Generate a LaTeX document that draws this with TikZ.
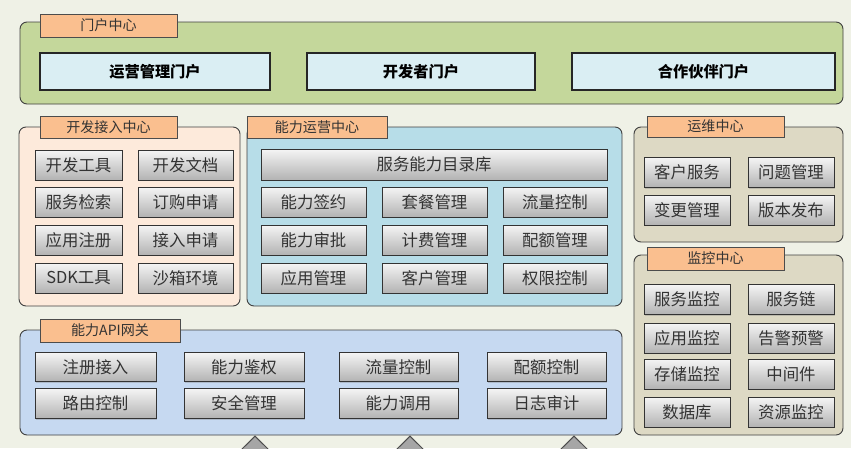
\documentclass[tikz,border=0pt]{standalone}
\usepackage{fontspec}
\setmainfont{Noto Sans CJK SC}
\usepackage{tikz}
\usetikzlibrary{arrows.meta, shadows}

\definecolor{pagebg}{RGB}{239,241,230}
\definecolor{portalgreen}{RGB}{196,215,155}
\definecolor{portalblue}{RGB}{218,238,243}
\definecolor{devpeach}{RGB}{253,234,219}
\definecolor{opsblue}{RGB}{183,221,232}
\definecolor{omgray}{RGB}{221,217,196}
\definecolor{gwblue}{RGB}{198,217,241}
\definecolor{taborange}{RGB}{250,191,143}

\newcommand{\pu}{0.03cm}

\begin{document}
\begin{tikzpicture}[x=0.03cm, y=-0.03cm,
  group/.style={draw=black!75, line width=0.8pt, rounded corners=6pt, inner sep=0pt},
  tab/.style={draw=black!70, fill=taborange, line width=0.6pt, inner sep=0pt,
              text=black!80, font=\fontsize{12}{14}\selectfont},
  portalbox/.style={draw=black!85, fill=portalblue, line width=1pt, inner sep=0pt,
              minimum height=37*\pu, font=\bfseries\fontsize{13}{15}\selectfont},
  btn/.style={draw=black!80, line width=0.8pt, inner sep=0pt,
              top color=white!96!black, bottom color=black!30,
              drop shadow={shadow xshift=1pt, shadow yshift=-1pt, opacity=0.35},
              minimum height=30*\pu, text=black!80, font=\fontsize{14}{16}\selectfont},
  uparrow/.style={draw=black!70, line width=0.8pt,
              -{Triangle[width=0.96cm, length=0.48cm, line width=0.8pt, fill=black!35]}}]
  \clip (0,0) rectangle (851,448);
  \fill[pagebg] (0,0) rectangle (851,448);

  % 门户中心
  \node[group, fill=portalgreen, minimum width=823*\pu, minimum height=82*\pu] (portal) at (431.5,63) {};
  \node[tab, minimum width=137*\pu, minimum height=23*\pu] (portaltab) at (108.5,25.5) {门户中心};
  \node[portalbox, minimum width=230*\pu] (opsportal) at (155,71.5)   {运营管理门户};
  \node[portalbox, minimum width=228*\pu] (devportal) at (421,71.5)   {开发者门户};
  \node[portalbox, minimum width=263*\pu] (ptnportal) at (703.5,71.5) {合作伙伴门户};

  % 开发接入中心
  \node[group, fill=devpeach, minimum width=221*\pu, minimum height=179*\pu] (dev) at (129.5,216.5) {};
  \node[tab, minimum width=137*\pu, minimum height=22*\pu] (devtab) at (108.5,127) {开发接入中心};
  \node[btn, minimum width=87*\pu] (devtool) at (78.5,165) {开发工具};
  \node[btn, minimum width=95*\pu] (devdoc)  at (185.5,165) {开发文档};
  \node[btn, minimum width=87*\pu] (search)  at (78.5,202) {服务检索};
  \node[btn, minimum width=95*\pu] (order)   at (185.5,202) {订购申请};
  \node[btn, minimum width=87*\pu] (appreg)  at (78.5,240) {应用注册};
  \node[btn, minimum width=95*\pu] (access)  at (185.5,240) {接入申请};
  \node[btn, minimum width=87*\pu] (sdk)     at (78.5,278) {SDK工具};
  \node[btn, minimum width=95*\pu] (sandbox) at (185.5,278) {沙箱环境};

  % 能力运营中心
  \node[group, fill=opsblue, minimum width=375*\pu, minimum height=179*\pu] (ops) at (434.5,216.5) {};
  \node[tab, minimum width=140*\pu, minimum height=22*\pu] (opstab) at (317,127) {能力运营中心};
  \node[btn, minimum width=346*\pu, minimum height=31*\pu] (catalog) at (434,164.5) {服务能力目录库};
  \node[btn, minimum width=105*\pu] (sign)     at (313.5,202) {能力签约};
  \node[btn, minimum width=105*\pu] (package)  at (434.5,202) {套餐管理};
  \node[btn, minimum width=104*\pu] (flow)     at (555,202)   {流量控制};
  \node[btn, minimum width=105*\pu] (approve)  at (313.5,240) {能力审批};
  \node[btn, minimum width=105*\pu] (billing)  at (434.5,240) {计费管理};
  \node[btn, minimum width=104*\pu] (quota)    at (555,240)   {配额管理};
  \node[btn, minimum width=105*\pu] (appmgr)   at (313.5,278) {应用管理};
  \node[btn, minimum width=105*\pu] (custmgr)  at (434.5,278) {客户管理};
  \node[btn, minimum width=104*\pu] (perm)     at (555,278)   {权限控制};

  % 运维中心
  \node[group, fill=omgray, minimum width=209*\pu, minimum height=115*\pu] (om) at (738.5,184.5) {};
  \node[tab, minimum width=137*\pu, minimum height=21*\pu] (omtab) at (715.5,126.5) {运维中心};
  \node[btn, minimum width=86*\pu] (custsvc) at (687,172.5) {客户服务};
  \node[btn, minimum width=86*\pu] (issue)   at (791,172.5) {问题管理};
  \node[btn, minimum width=86*\pu] (change)  at (687,210)   {变更管理};
  \node[btn, minimum width=86*\pu] (release) at (791,210)   {版本发布};

  % 监控中心
  \node[group, fill=omgray, minimum width=209*\pu, minimum height=180*\pu] (mon) at (738.5,345) {};
  \node[tab, minimum width=137*\pu, minimum height=23*\pu] (montab) at (715.5,258.5) {监控中心};
  \node[btn, minimum width=86*\pu] (svcmon)   at (687,299.5) {服务监控};
  \node[btn, minimum width=86*\pu] (svcchain) at (791,299.5) {服务链};
  \node[btn, minimum width=86*\pu] (appmon)   at (687,338)   {应用监控};
  \node[btn, minimum width=86*\pu] (alarm)    at (791,338)   {告警预警};
  \node[btn, minimum width=86*\pu] (stormon)  at (687,374)   {存储监控};
  \node[btn, minimum width=86*\pu] (midware)  at (791,374)   {中间件};
  \node[btn, minimum width=86*\pu] (database) at (687,412)   {数据库};
  \node[btn, minimum width=86*\pu] (resmon)   at (791,412)   {资源监控};

  % 能力API网关
  \node[group, fill=gwblue, minimum width=602*\pu, minimum height=105*\pu] (gw) at (321,382.5) {};
  \node[tab, minimum width=140*\pu, minimum height=23*\pu] (gwtab) at (110,330.5) {能力API网关};
  \node[btn, minimum width=121*\pu, minimum height=29*\pu] (register) at (95.5,367)  {注册接入};
  \node[btn, minimum width=120*\pu, minimum height=29*\pu] (auth)     at (244,367)   {能力鉴权};
  \node[btn, minimum width=119*\pu, minimum height=29*\pu] (gwflow)   at (398.5,367) {流量控制};
  \node[btn, minimum width=119*\pu, minimum height=29*\pu] (gwquota)  at (546.5,367) {配额控制};
  \node[btn, minimum width=121*\pu] (route)    at (95.5,403.5)  {路由控制};
  \node[btn, minimum width=120*\pu] (security) at (244,403.5)   {安全管理};
  \node[btn, minimum width=119*\pu] (invoke)   at (398.5,403.5) {能力调用};
  \node[btn, minimum width=119*\pu] (audit)    at (546.5,403.5) {日志审计};

  % arrows coming up into the gateway
  \coordinate (in1) at (255,480);
  \coordinate (in2) at (410,480);
  \coordinate (in3) at (574,480);
  \draw[uparrow] (in1) -- (in1 |- gw.south);
  \draw[uparrow] (in2) -- (in2 |- gw.south);
  \draw[uparrow] (in3) -- (in3 |- gw.south);
\end{tikzpicture}
\end{document}
